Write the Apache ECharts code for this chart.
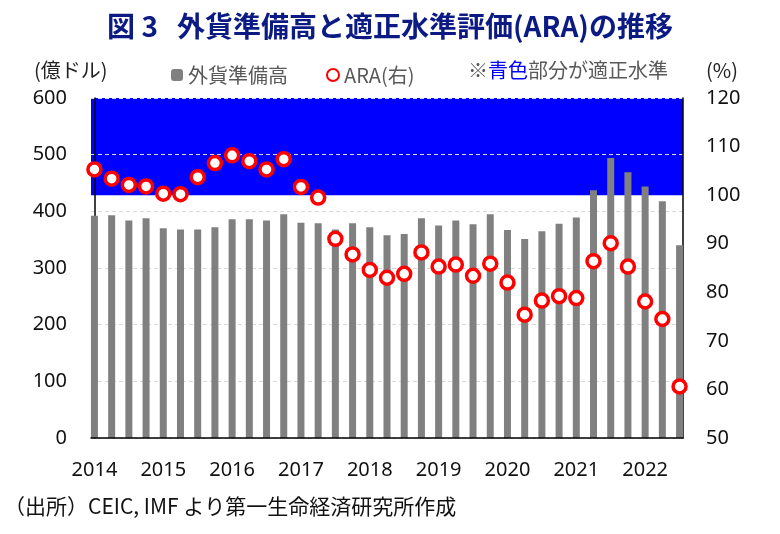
<!DOCTYPE html>
<html>
<head>
<meta charset="utf-8">
<script src="https://cdn.jsdelivr.net/npm/echarts@6/dist/echarts.min.js"></script>
<style>
  html, body { margin: 0; padding: 0; background: #fff; }
  #chart { width: 780px; height: 534px; }
</style>
</head>
<body>
<div id="chart"></div>
<script>
// quarterly, 2014Q1 - 2022Q3
const quarters = []
for (let y = 2014; y <= 2022; y++) {
  for (let q = 1; q <= 4; q++) {
    if (y === 2022 && q === 4) break
    quarters.push(y + 'Q' + q)
  }
}
const yearLabels = ['2014', '2015', '2016', '2017', '2018', '2019', '2020', '2021', '2022']

// 外貨準備高 (億ドル)
const reserves = [
  392, 393, 384, 388, 370, 368, 368, 372, 386, 386, 384, 395,
  380, 379, 368, 379, 372, 358, 360, 388, 375, 384, 377, 395,
  367, 351, 365, 378, 389, 437, 494, 469, 444, 418, 340
]
// ARA (%)
const ara = [
  105.3, 103.4, 102.1, 101.8, 100.3, 100.2, 103.7, 106.6, 108.2, 107.0, 105.3, 107.4,
  101.7, 99.5, 91.0, 87.8, 84.6, 83.0, 83.8, 88.2, 85.3, 85.7, 83.4, 85.9,
  82.0, 75.4, 78.3, 79.2, 78.8, 86.4, 90.1, 85.3, 78.1, 74.5, 60.6
]
// 適正水準 (ARA 100%以上)
const adequateRange = [100, 120]

const font = '"Noto Sans CJK JP", "Noto Sans", sans-serif'
const chart = echarts.init(document.getElementById('chart'))

chart.setOption({
  animation: false,
  textStyle: { fontFamily: font },
  title: {
    text: '図 3   外貨準備高と適正水準評価(ARA)の推移',
    left: 'center',
    top: 7,
    textStyle: { fontSize: 28, fontWeight: 'bold', color: '#0c1a84', fontFamily: font }
  },
  legend: {
    left: 166,
    top: 60,
    itemWidth: 12,
    itemHeight: 12,
    itemGap: 38,
    textStyle: { fontSize: 20, color: '#595959', fontFamily: font },
    data: ['外貨準備高', 'ARA(右)']
  },
  graphic: [
    { type: 'text', left: 34, top: 60, style: { text: '(億ドル)', fontSize: 20, fill: '#222', fontFamily: font } },
    { type: 'text', left: 706, top: 60, style: { text: '(%)', fontSize: 20, fill: '#222', fontFamily: font } },
    {
      type: 'text', left: 468, top: 60,
      style: {
        text: '※{b|青色}部分が適正水準',
        fontSize: 20, fill: '#595959', fontFamily: font,
        rich: { b: { fontSize: 20, fill: '#0000ff', fontFamily: font } }
      }
    },
    { type: 'text', left: 4, top: 496, style: { text: '（出所）CEIC, IMF より第一生命経済研究所作成', fontSize: 21, fill: '#111', fontFamily: font } }
  ],
  grid: { left: 91, right: 97, top: 98, bottom: 96 },
  xAxis: {
    type: 'value',
    min: -0.2,
    max: quarters.length - 0.8,
    z: 3,
    axisLine: { show: true, lineStyle: { color: '#000', width: 1.5 } },
    axisTick: { show: false },
    splitLine: { show: false },
    axisLabel: {
      customValues: yearLabels.map((_, i) => i * 4),
      formatter: v => yearLabels[Math.round(v / 4)],
      fontSize: 20,
      color: '#111',
      margin: 22,
      fontFamily: '"Noto Sans", sans-serif'
    }
  },
  yAxis: [
    {
      type: 'value',
      min: 0,
      max: 600,
      interval: 100,
      z: 1.5,
      axisLine: { show: true, lineStyle: { color: '#000', width: 1.5 } },
      axisTick: { show: false },
      axisLabel: { fontSize: 20, color: '#111', margin: 24, fontFamily: '"Noto Sans", sans-serif' },
      splitLine: { show: true, lineStyle: { color: '#d9d9d9', type: [4, 3] } }
    },
    {
      type: 'value',
      min: 50,
      max: 120,
      interval: 10,
      z: 1.5,
      axisLine: { show: true, lineStyle: { color: '#000', width: 1.5 } },
      axisTick: { show: false },
      axisLabel: { fontSize: 20, color: '#111', margin: 23, fontFamily: '"Noto Sans", sans-serif' },
      splitLine: { show: false }
    }
  ],
  series: [
    {
      type: 'line',
      yAxisIndex: 1,
      data: [],
      z: 0,
      silent: true,
      markArea: {
        silent: true,
        z: 0,
        itemStyle: { color: '#0000ff', opacity: 1 },
        data: [[{ yAxis: adequateRange[0] }, { yAxis: adequateRange[1] }]]
      }
    },
    {
      name: '外貨準備高',
      type: 'bar',
      barWidth: 7,
      itemStyle: { color: '#808080' },
      data: reserves.map((v, i) => [i, v])
    },
    {
      name: 'ARA(右)',
      type: 'scatter',
      yAxisIndex: 1,
      symbol: 'circle',
      symbolSize: 13,
      z: 5,
      itemStyle: { color: '#fff', borderColor: '#ff0000', borderWidth: 3.5, opacity: 1 },
      data: ara.map((v, i) => [i, v])
    }
  ]
})
</script>
</body>
</html>
